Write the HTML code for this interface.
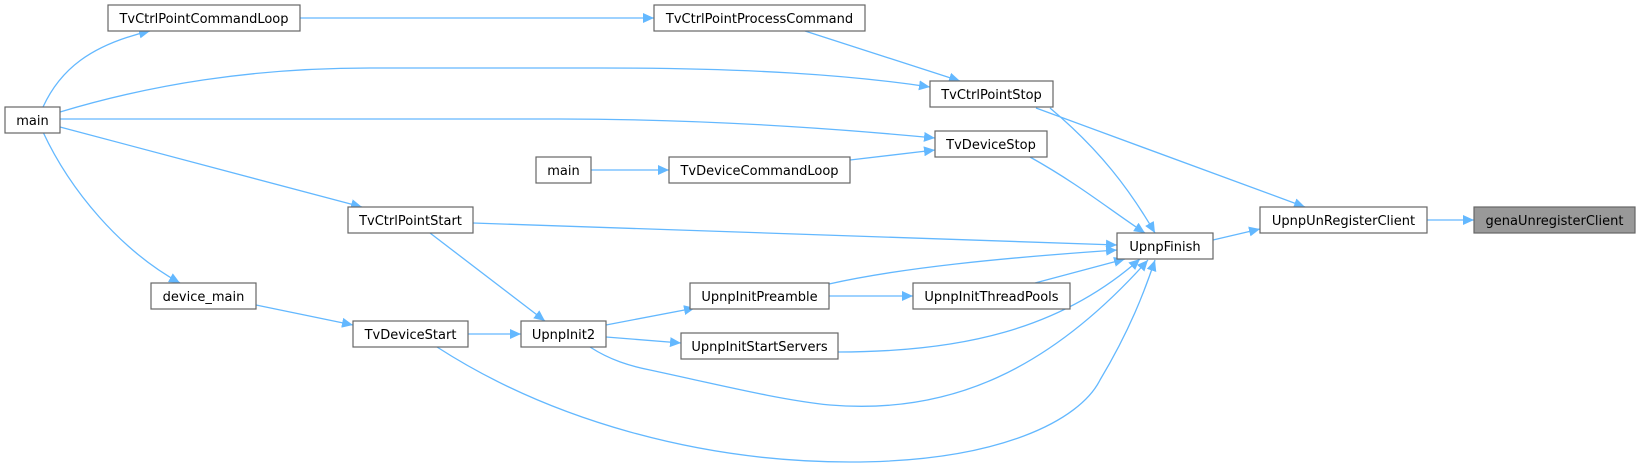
<!DOCTYPE html>
<html><head><meta charset="utf-8"><style>
html,body{margin:0;padding:0;background:#fff;}
svg{display:block;}
text{font-family:"DejaVu Sans","Liberation Sans",sans-serif;font-size:13px;fill:#000;}
.n{fill:#fff;stroke:#666;stroke-width:1.2;}
.e{fill:none;stroke:#63b8ff;stroke-width:1.3;}
</style></head><body>
<svg width="1641" height="468" viewBox="0 0 1641 468" xmlns="http://www.w3.org/2000/svg">
<defs>
<marker id="a" markerUnits="userSpaceOnUse" markerWidth="12" markerHeight="10" refX="11" refY="5" orient="auto">
<path d="M0,0 L11,5 L0,10 Z" fill="#63b8ff"/>
</marker>
</defs>
<g marker-end="url(#a)">
<path class="e" d="M43,107 C60,70 90,45 150,31"/>
<path class="e" d="M300,18 L654,18"/>
<path class="e" d="M805,31 L960,81"/>
<path class="e" d="M60,112 C150,85 250,68 370,68 L600,68 C750,68 850,75 930,87"/>
<path class="e" d="M60,119 L560,119 C700,119 830,128 935,138"/>
<path class="e" d="M591,170 L669,170"/>
<path class="e" d="M850,160 L935,150"/>
<path class="e" d="M60,127 L362,207"/>
<path class="e" d="M43,132 C70,190 120,250 180,283"/>
<path class="e" d="M430,233 L545,321"/>
<path class="e" d="M256,305 L353,325"/>
<path class="e" d="M468,334 L521,334"/>
<path class="e" d="M606,325 L695,308"/>
<path class="e" d="M606,337 L681,343"/>
<path class="e" d="M829,296 L913,296"/>
<path class="e" d="M1050,108 C1100,150 1130,190 1155,233"/>
<path class="e" d="M1030,157 C1080,185 1110,210 1145,233"/>
<path class="e" d="M473,223 L1117,245"/>
<path class="e" d="M829,284 C900,268 1000,258 1117,250"/>
<path class="e" d="M1035,283 L1125,259"/>
<path class="e" d="M838,352 C960,352 1060,330 1140,259"/>
<path class="e" d="M590,347 C610,360 630,366 650,370 C720,385 780,400 830,405 C950,415 1050,370 1148,260"/>
<path class="e" d="M437,347 C550,420 700,462 850,462 C1000,462 1080,420 1100,380 C1130,330 1145,290 1155,260"/>
<path class="e" d="M1213,240 L1260,229"/>
<path class="e" d="M1036,108 L1305,207"/>
<path class="e" d="M1427,220 L1474,220"/>
</g>
<g text-anchor="middle">
<rect class="n" x="108" y="5" width="192" height="26"/><text x="204" y="23">TvCtrlPointCommandLoop</text>
<rect class="n" x="654" y="5" width="211" height="26"/><text x="759.5" y="23">TvCtrlPointProcessCommand</text>
<rect class="n" x="5" y="107" width="55" height="26"/><text x="32.5" y="125">main</text>
<rect class="n" x="930" y="81" width="123" height="26"/><text x="991.5" y="99">TvCtrlPointStop</text>
<rect class="n" x="935" y="131" width="112" height="26"/><text x="991" y="149">TvDeviceStop</text>
<rect class="n" x="536" y="157" width="55" height="26"/><text x="563.5" y="175">main</text>
<rect class="n" x="669" y="157" width="181" height="26"/><text x="759.5" y="175">TvDeviceCommandLoop</text>
<rect class="n" x="348" y="207" width="125" height="26"/><text x="410.5" y="225">TvCtrlPointStart</text>
<rect class="n" x="1117" y="233" width="96" height="26"/><text x="1165" y="251">UpnpFinish</text>
<rect class="n" x="1260" y="207" width="167" height="26"/><text x="1343.5" y="225">UpnpUnRegisterClient</text>
<rect class="n" x="1474" y="207" width="161" height="26" style="fill:#999"/><text x="1554.5" y="225">genaUnregisterClient</text>
<rect class="n" x="151" y="283" width="105" height="26"/><text x="203.5" y="301">device_main</text>
<rect class="n" x="690" y="283" width="139" height="26"/><text x="759.5" y="301">UpnpInitPreamble</text>
<rect class="n" x="913" y="283" width="157" height="26"/><text x="991.5" y="301">UpnpInitThreadPools</text>
<rect class="n" x="353" y="321" width="115" height="26"/><text x="410.5" y="339">TvDeviceStart</text>
<rect class="n" x="521" y="321" width="85" height="26"/><text x="563.5" y="339">UpnpInit2</text>
<rect class="n" x="681" y="333" width="157" height="26"/><text x="759.5" y="351">UpnpInitStartServers</text>
</g>
</svg>
</body></html>
